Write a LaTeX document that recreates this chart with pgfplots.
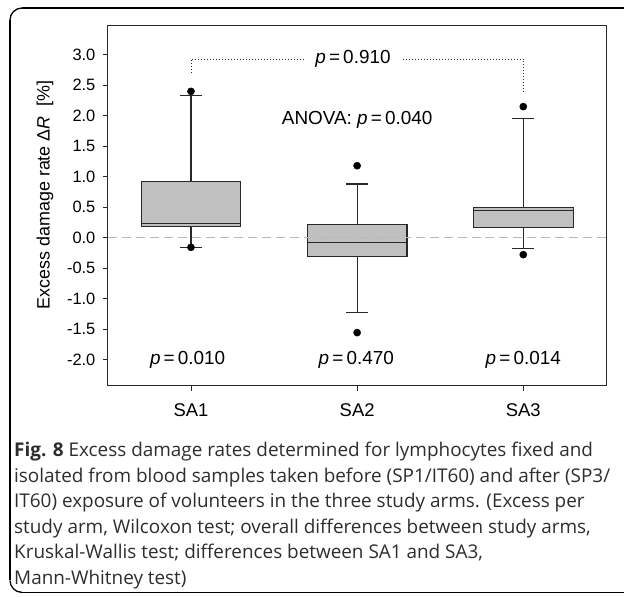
\documentclass[border=0pt]{standalone}
\usepackage{fontspec}
\setmainfont{Liberation Sans}
\newfontfamily\capfont{Open Sans}
\usepackage{pgfplots}
\pgfplotsset{compat=1.18}
\usepgfplotslibrary{statistics}
\definecolor{boxfill}{RGB}{192,192,192}
\definecolor{boxline}{RGB}{40,40,40}
\definecolor{zeroline}{RGB}{185,185,185}
\definecolor{captext}{RGB}{45,45,45}
\newcommand{\ptext}{\fontsize{19}{21}\selectfont}
\begin{document}
\begin{tikzpicture}
\path (0bp,0bp) rectangle (625bp,-597bp);
\begin{axis}[
  at={(108bp,-386bp)}, anchor=south west,
  scale only axis, width=499bp, height=361bp,
  xmin=0.5, xmax=3.5, ymin=-2.43, ymax=3.49,
  xtick={1,2,3}, xticklabels={SA1,SA2,SA3},
  ytick={-2,-1.5,-1,-0.5,0,0.5,1,1.5,2,2.5,3},
  /pgf/number format/assume math mode=true,
  yticklabel={\pgfmathprintnumber[fixed,fixed zerofill,precision=1]{\tick}},
  yticklabel style={font=\fontsize{16.5}{18}\selectfont, xshift=-4bp},
  xticklabel style={font=\fontsize{18.5}{20}\selectfont, yshift=-10bp},
  axis line style={boxline, line width=0.9bp},
  tick style={boxline, line width=0.9bp},
  tick align=outside, major tick length=5bp,
  xtick pos=left, ytick pos=left,
  ylabel={Excess damage rate Δ\textit{R}\ \ [\%]},
  ylabel style={font=\fontsize{18}{20}\selectfont, at={(axis description cs:-0.126,0.529)}, anchor=center, rotate=0},
  boxplot/draw direction=y,
  clip=false,
]
% boxes
\addplot[draw=boxline, fill=boxfill, line width=1.1bp,
  boxplot prepared={draw position=1, median=0.23, upper quartile=0.92, lower quartile=0.18,
    upper whisker=2.33, lower whisker=-0.16, box extend=0.6, whisker extend=0.13}] coordinates {};
\addplot[draw=boxline, fill=boxfill, line width=1.1bp,
  boxplot prepared={draw position=2, median=-0.08, upper quartile=0.21, lower quartile=-0.31,
    upper whisker=0.88, lower whisker=-1.23, box extend=0.6, whisker extend=0.13}] coordinates {};
\addplot[draw=boxline, fill=boxfill, line width=1.1bp,
  boxplot prepared={draw position=3, median=0.44, upper quartile=0.49, lower quartile=0.17,
    upper whisker=1.95, lower whisker=-0.18, box extend=0.6, whisker extend=0.13}] coordinates {};
% zero line
\addplot[zeroline, line width=1.2bp, dash pattern=on 9bp off 5bp] coordinates {(0.5,0) (3.5,0)};
% outliers
\addplot[only marks, mark=*, mark size=3.6bp, black] coordinates {
  (1,2.40) (1,-0.16) (2,1.18) (2,-1.56) (3,2.15) (3,-0.28)};
% dotted bracket
\addplot[boxline, line width=0.9bp, dash pattern=on 1bp off 2bp] coordinates {(1,2.70) (1,2.93) (1.685,2.93)};
\addplot[boxline, line width=0.9bp, dash pattern=on 1bp off 2bp] coordinates {(2.274,2.93) (3,2.93) (3,2.39)};
% texts
\node[font=\ptext] at (axis cs:1.975,2.93) {\textit{p}\,=\,0.910};
\node[font=\ptext] at (axis cs:2.0,1.93) {ANOVA: \textit{p}\,=\,0.040};
\node[font=\ptext] at (axis cs:0.98,-2.0) {\textit{p}\,=\,0.010};
\node[font=\ptext] at (axis cs:1.995,-2.0) {\textit{p}\,=\,0.470};
\node[font=\ptext] at (axis cs:3.0,-2.0) {\textit{p}\,=\,0.014};
\end{axis}
% caption
\begin{scope}[every node/.style={anchor=base west, inner sep=0pt, text=captext, font=\capfont\fontsize{19}{22}\selectfont}]
\node at (14bp,-457bp) {\textbf{Fig. 8} Excess damage rates determined for lymphocytes fixed and};
\node at (14bp,-482.6bp) {isolated from blood samples taken before (SP1/IT60) and after (SP3/};
\node at (14bp,-508.2bp) {IT60) exposure of volunteers in the three study arms. (Excess per};
\node at (14bp,-533.8bp) {study arm, Wilcoxon test; overall differences between study arms,};
\node at (14bp,-559.4bp) {Kruskal-Wallis test; differences between SA1 and SA3,};
\node at (14bp,-585bp) {Mann-Whitney test)};
\end{scope}
% frame, as separate strokes
\draw[black, line width=1.3bp] (22bp,-8bp) -- (625bp,-8bp);
\draw[black, line width=1.3bp] (10bp,-20bp) -- (10bp,-581bp);
\draw[black, line width=1.3bp] (22bp,-593bp) -- (625bp,-593bp);
\draw[black, line width=1.3bp] (10bp,-20bp) arc[start angle=180, end angle=90, radius=12bp];
\draw[black, line width=1.3bp] (10bp,-581bp) arc[start angle=180, end angle=270, radius=12bp];
\end{tikzpicture}
\end{document}
